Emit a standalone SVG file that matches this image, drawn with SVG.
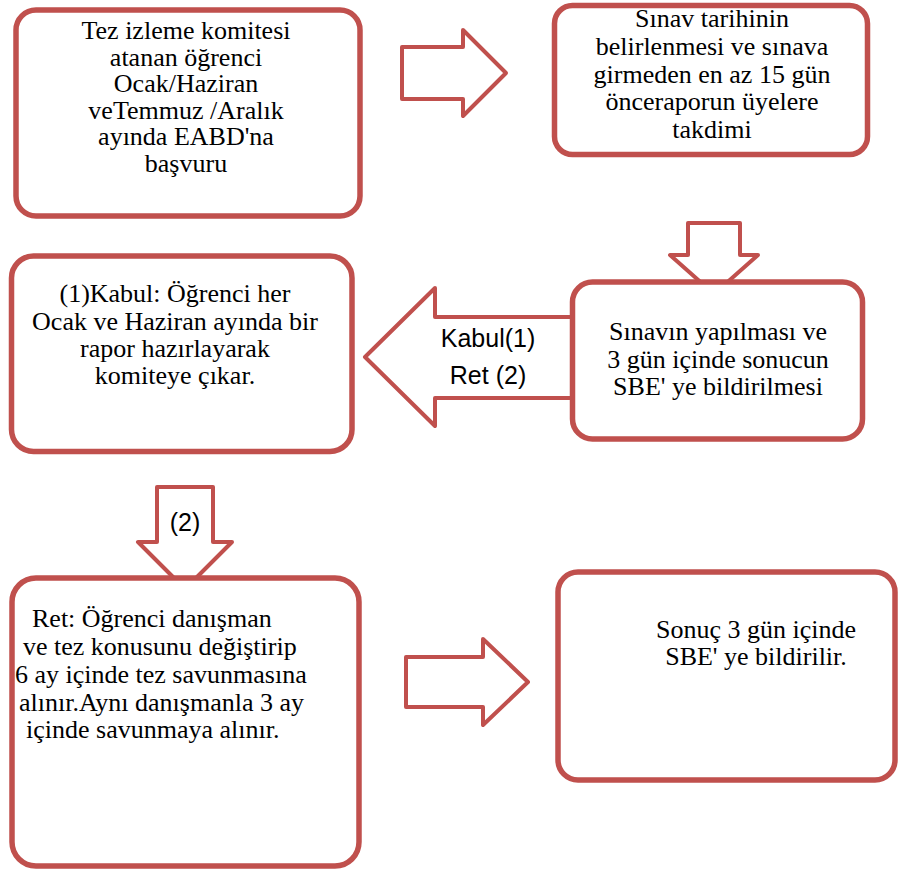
<svg xmlns="http://www.w3.org/2000/svg" width="898" height="870" viewBox="0 0 898 870">
<style>
.box{fill:#ffffff;stroke:#c0504d;stroke-width:5.5}
.arr{fill:#ffffff;stroke:#c0504d;stroke-width:4;stroke-linejoin:round}
.t{font-family:"Liberation Serif","Times New Roman",serif;font-size:26px;fill:#000;text-anchor:middle}
.ts{font-family:"Liberation Serif","Times New Roman",serif;font-size:26px;fill:#000}
.l{font-family:"Liberation Sans",Arial,sans-serif;font-size:25px;fill:#000;text-anchor:middle}
</style>
<rect width="898" height="870" fill="#ffffff"/>
<g id="connectors">
  <polygon class="arr" points="402,47 463,47 463,30 506,73 463,116 463,99 402,99"/>
  <polygon class="arr" points="688,223 740,223 740,255 758,255 714,294 670,255 688,255"/>
  <polygon class="arr" points="572,317 435,317 435,288 365,357 435,426 435,398 572,398"/>
  <polygon class="arr" points="157,487 213,487 213,542 232,542 185,589 138,542 157,542"/>
  <polygon class="arr" points="406,657 483,657 483,639 528,682 483,725 483,707 406,707"/>
  <text class="l" x="488" y="347">Kabul(1)</text>
  <text class="l" x="488" y="384">Ret (2)</text>
  <text class="l" x="185" y="531">(2)</text>
</g>
<g id="node1">
  <rect class="box" x="16" y="10" width="344" height="206" rx="20"/>
  <text class="t" x="186" y="39">Tez izleme komitesi</text>
  <text class="t" x="186" y="65.5">atanan öğrenci</text>
  <text class="t" x="186" y="92">Ocak/Haziran</text>
  <text class="t" x="186" y="118.5">veTemmuz /Aralık</text>
  <text class="t" x="186" y="145">ayında EABD'na</text>
  <text class="t" x="186" y="171.5">başvuru</text>
</g>
<g id="node2">
  <rect class="box" x="554.5" y="5.5" width="313" height="149" rx="18"/>
  <text class="t" x="712" y="27">Sınav tarihinin</text>
  <text class="t" x="712" y="55">belirlenmesi ve sınava</text>
  <text class="t" x="712" y="82.5">girmeden en az 15 gün</text>
  <text class="t" x="712" y="110">önceraporun üyelere</text>
  <text class="t" x="712" y="137.5">takdimi</text>
</g>
<g id="node3">
  <rect class="box" x="11.5" y="256" width="340.5" height="195.5" rx="22"/>
  <text class="t" x="175" y="302">(1)Kabul: Öğrenci her</text>
  <text class="t" x="175" y="329.5">Ocak ve Haziran ayında bir</text>
  <text class="t" x="175" y="357">rapor hazırlayarak</text>
  <text class="t" x="175" y="384">komiteye çıkar.</text>
</g>
<g id="node4">
  <rect class="box" x="572.5" y="282" width="290" height="157" rx="20"/>
  <text class="t" x="718" y="340">Sınavın yapılması ve</text>
  <text class="t" x="718" y="368">3 gün içinde sonucun</text>
  <text class="t" x="718" y="395">SBE' ye bildirilmesi</text>
</g>
<g id="node5">
  <rect class="box" x="12" y="578" width="347" height="288" rx="24"/>
  <text class="ts" x="32" y="627">Ret: Öğrenci danışman</text>
  <text class="ts" x="23" y="655">ve tez konusunu değiştirip</text>
  <text class="ts" x="15" y="683">6 ay içinde tez savunmasına</text>
  <text class="ts" x="19" y="711">alınır.Aynı danışmanla 3 ay</text>
  <text class="ts" x="26" y="738">içinde savunmaya alınır.</text>
</g>
<g id="node6">
  <rect class="box" x="558" y="572" width="337" height="208" rx="20"/>
  <text class="t" x="756" y="638">Sonuç 3 gün içinde</text>
  <text class="t" x="756" y="665">SBE' ye bildirilir.</text>
</g>
</svg>
